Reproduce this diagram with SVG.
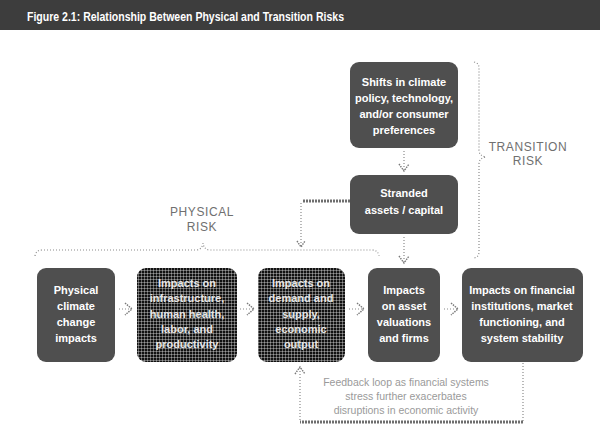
<svg xmlns="http://www.w3.org/2000/svg" width="600" height="431" viewBox="0 0 600 431">
  <style>
    .box { fill: #4f4f4f; }
    .hatchbox { fill: url(#hatch); }
    .btxt { font-family: "Liberation Sans", Arial, sans-serif; font-weight: bold; font-size: 11px; fill: #ffffff; text-anchor: middle; }
    .htxt { font-family: "Liberation Sans", Arial, sans-serif; font-weight: bold; font-size: 11px; fill: #e6e6e6; text-anchor: middle; }
    .risk { font-family: "Liberation Sans", Arial, sans-serif; font-size: 12px; fill: #707070; text-anchor: middle; letter-spacing: 0.6px; }
    .note { font-family: "Liberation Sans", Arial, sans-serif; font-size: 10.5px; fill: #9a9a9a; text-anchor: middle; }
    .dot { fill: none; stroke: #8a8a8a; stroke-width: 1.2; stroke-dasharray: 1 2; }
    .thick { fill: none; stroke: #6e6e6e; stroke-width: 3; stroke-dasharray: 2 1; }
    .chev { fill: none; stroke: #7a7a7a; stroke-width: 1.4; stroke-dasharray: 1.5 1; }
  </style>
  <defs>
    <pattern id="hatch" width="3" height="3" patternUnits="userSpaceOnUse">
      <rect width="3" height="3" fill="#111111"/>
      <rect width="3" height="1" fill="#ffffff" opacity="0.35"/>
      <rect width="1" height="3" fill="#ffffff" opacity="0.35"/>
    </pattern>
  </defs>

  <!-- title bar -->
  <g id="title">
    <rect x="0" y="0" width="600" height="30" fill="#3d3d3d"/>
    <text x="27" y="21" font-family="Liberation Sans, Arial, sans-serif" font-weight="bold" font-size="12.5" fill="#ffffff" textLength="317" lengthAdjust="spacingAndGlyphs">Figure 2.1: Relationship Between Physical and Transition Risks</text>
  </g>

  <!-- risk labels -->
  <g id="physical-risk-label">
    <text class="risk" x="202" y="216">PHYSICAL</text>
    <text class="risk" x="202" y="231">RISK</text>
  </g>
  <g id="transition-risk-label">
    <text class="risk" x="528" y="151">TRANSITION</text>
    <text class="risk" x="528" y="165">RISK</text>
  </g>

  <!-- connectors -->
  <g id="connectors">
    <!-- physical risk brace -->
    <path class="dot" d="M35 256 Q36 250 42 250 L196 250 Q202 250 203 243 Q204 250 210 250 L372 250 Q378 250 379 256"/>
    <!-- transition risk brace -->
    <path class="dot" d="M474 62 Q479 63 479 68 L479 150 Q479 156 486 157 Q479 158 479 164 L479 252 Q479 257 474 258"/>
    <!-- stranded assets link into physical risk -->
    <path class="thick" d="M350 201 L303 201"/>
    <path class="dot" d="M301 203 L301 246"/>
    <path class="chev" d="M297 241 L301 247 L305 241"/>
    <!-- policy shifts to stranded assets -->
    <path class="dot" d="M404 151 L404 170"/>
    <path class="chev" d="M399 164 L404 171 L409 164"/>
    <!-- stranded assets to asset valuations -->
    <path class="dot" d="M404 237 L404 262"/>
    <path class="chev" d="M399 256 L404 263 L409 256"/>
    <!-- bottom row chain -->
    <path class="dot" d="M119 309 L131 309"/>
    <path class="chev" d="M125 303 L132 309 L125 315"/>
    <path class="dot" d="M240 309 L253 309"/>
    <path class="chev" d="M247 303 L254 309 L247 315"/>
    <path class="dot" d="M349 309 L363 309"/>
    <path class="chev" d="M357 303 L364 309 L357 315"/>
    <path class="dot" d="M444 309 L457 309"/>
    <path class="chev" d="M451 303 L458 309 L451 315"/>
    <!-- feedback loop -->
    <path class="dot" d="M523 363 L523 421"/>
    <path class="thick" d="M523 422 L300 422"/>
    <path class="dot" d="M300 420 L300 368"/>
    <path class="chev" d="M295 374 L300 367 L305 374"/>
  </g>

  <!-- transition nodes -->
  <g id="policy-shifts">
    <rect class="box" x="350" y="62" width="108" height="86" rx="9"/>
    <text class="btxt" x="404" y="86">Shifts in climate</text>
    <text class="btxt" x="404" y="102">policy, technology,</text>
    <text class="btxt" x="404" y="118">and/or consumer</text>
    <text class="btxt" x="404" y="134">preferences</text>
  </g>
  <g id="stranded-assets">
    <rect class="box" x="350" y="175" width="108" height="59" rx="9"/>
    <text class="btxt" x="404" y="197">Stranded</text>
    <text class="btxt" x="404" y="214">assets / capital</text>
  </g>

  <!-- bottom row nodes -->
  <g id="physical-impacts">
    <rect class="box" x="37" y="268" width="78" height="94" rx="9"/>
    <text class="btxt" x="76" y="294">Physical</text>
    <text class="btxt" x="76" y="310">climate</text>
    <text class="btxt" x="76" y="326">change</text>
    <text class="btxt" x="76" y="342">impacts</text>
  </g>
  <g id="infrastructure-impacts">
    <rect class="hatchbox" x="137" y="268" width="100" height="94" rx="9"/>
    <text class="htxt" x="187" y="287">Impacts on</text>
    <text class="htxt" x="187" y="302">infrastructure,</text>
    <text class="htxt" x="187" y="318">human health,</text>
    <text class="htxt" x="187" y="333">labor, and</text>
    <text class="htxt" x="187" y="348">productivity</text>
  </g>
  <g id="economic-impacts">
    <rect class="hatchbox" x="258" y="268" width="87" height="94" rx="9"/>
    <text class="htxt" x="301" y="287">Impacts on</text>
    <text class="htxt" x="301" y="302">demand and</text>
    <text class="htxt" x="301" y="318">supply,</text>
    <text class="htxt" x="301" y="333">economic</text>
    <text class="htxt" x="301" y="348">output</text>
  </g>
  <g id="asset-valuations">
    <rect class="box" x="368" y="268" width="72" height="94" rx="9"/>
    <text class="btxt" x="404" y="294">Impacts</text>
    <text class="btxt" x="404" y="310">on asset</text>
    <text class="btxt" x="404" y="326">valuations</text>
    <text class="btxt" x="404" y="342">and firms</text>
  </g>
  <g id="financial-impacts">
    <rect class="box" x="462" y="268" width="121" height="94" rx="9"/>
    <text class="btxt" x="522" y="294">Impacts on financial</text>
    <text class="btxt" x="522" y="310">institutions, market</text>
    <text class="btxt" x="522" y="326">functioning, and</text>
    <text class="btxt" x="522" y="342">system stability</text>
  </g>

  <!-- feedback note -->
  <g id="feedback-note">
    <text class="note" x="406" y="386">Feedback loop as financial systems</text>
    <text class="note" x="406" y="400">stress further exacerbates</text>
    <text class="note" x="406" y="414">disruptions in economic activity</text>
  </g>
</svg>
